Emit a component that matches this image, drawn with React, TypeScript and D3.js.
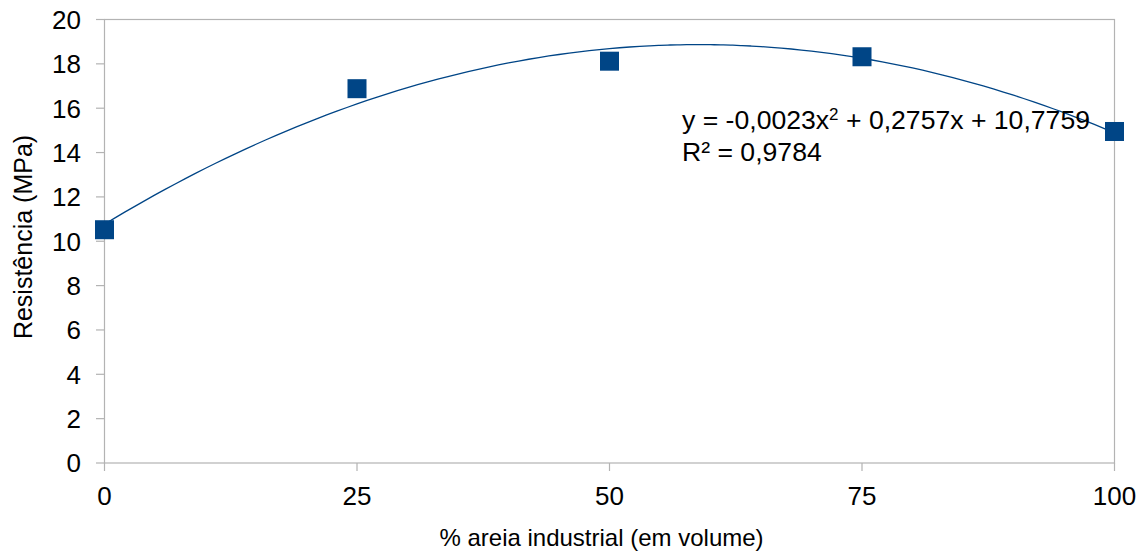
import React from "react";
import * as d3 from "d3";

const categories = [0, 25, 50, 75, 100];
const resistance = [10.52, 16.88, 18.12, 18.32, 14.95];
const yTicks = [0, 2, 4, 6, 8, 10, 12, 14, 16, 18, 20];
const xTicks = [0, 25, 50, 75, 100];
const equationLabel = ["y = -0,0023x", "2", " + 0,2757x + 10,7759"];
const r2Label = "R² = 0,9784";
const xTitle = "% areia industrial (em volume)";
const yTitle = "Resistência (MPa)";

const W = 1146;
const H = 551;
const M = { left: 104.5, right: 1114.5, top: 19.5, bottom: 463 };
const FONT = "'Liberation Sans', Arial, sans-serif";
const BLUE = "#004586";
const GRID = "#b3b3b3";

// least-squares quadratic fit of the data (polynomial trendline)
function quadFit(xs: number[], ys: number[]) {
  const n = xs.length;
  let s1 = 0, s2 = 0, s3 = 0, s4 = 0, t0 = 0, t1 = 0, t2 = 0;
  for (let i = 0; i < n; i++) {
    const xv = xs[i], yv = ys[i];
    s1 += xv; s2 += xv * xv; s3 += xv ** 3; s4 += xv ** 4;
    t0 += yv; t1 += xv * yv; t2 += xv * xv * yv;
  }
  const A = [
    [n, s1, s2, t0],
    [s1, s2, s3, t1],
    [s2, s3, s4, t2],
  ];
  for (let i = 0; i < 3; i++) {
    for (let k = i + 1; k < 3; k++) {
      const f = A[k][i] / A[i][i];
      for (let j = i; j < 4; j++) A[k][j] -= f * A[i][j];
    }
  }
  const sol = [0, 0, 0];
  for (let i = 2; i >= 0; i--) {
    let s = A[i][3];
    for (let j = i + 1; j < 3; j++) s -= A[i][j] * sol[j];
    sol[i] = s / A[i][i];
  }
  return { c: sol[0], b: sol[1], a: sol[2] };
}

export default function App() {
  const x = d3.scaleLinear().domain([0, 100]).range([M.left, M.right]);
  const y = d3.scaleLinear().domain([0, 20]).range([M.bottom, M.top]);
  const { a, b, c } = quadFit(categories, resistance);
  const trendX = d3.range(0, 100.5, 1);
  const line = d3
    .line<number>()
    .x((d) => x(d))
    .y((d) => y(a * d * d + b * d + c))
    .curve(d3.curveMonotoneX);
  const size = 19;
  return (
    <svg
      width={W}
      height={H}
      style={{ position: "absolute", left: 0, top: 0, background: "#fff" }}
      fontFamily={FONT}
    >
      <rect x={0} y={0} width={W} height={H} fill="#fff" />
      <rect
        x={M.left}
        y={M.top}
        width={M.right - M.left}
        height={M.bottom - M.top}
        fill="none"
        stroke={GRID}
        strokeWidth={1.2}
      />
      {yTicks.map((t) => (
        <g key={"y" + t}>
          <line x1={96} x2={M.left} y1={y(t)} y2={y(t)} stroke={GRID} strokeWidth={1.2} />
          <text x={81} y={y(t)} dy="0.36em" textAnchor="end" fontSize={26} fill="#000">
            {t}
          </text>
        </g>
      ))}
      {xTicks.map((t) => (
        <g key={"x" + t}>
          <line x1={x(t)} x2={x(t)} y1={M.bottom} y2={M.bottom + 8} stroke={GRID} strokeWidth={1.2} />
          <text x={x(t)} y={505} textAnchor="middle" fontSize={26} fill="#000">
            {t}
          </text>
        </g>
      ))}
      <path d={line(trendX) || ""} fill="none" stroke={BLUE} strokeWidth={1.3} />
      {categories.map((cat, i) => (
        <rect
          key={"p" + i}
          x={x(cat) - size / 2}
          y={y(resistance[i]) - size / 2}
          width={size}
          height={size}
          fill={BLUE}
        />
      ))}
      <text x={682} y={129} fontSize={26.6} fill="#000">
        {equationLabel[0]}
        <tspan dy={-9} fontSize={17}>{equationLabel[1]}</tspan>
        <tspan dy={9}>{equationLabel[2]}</tspan>
      </text>
      <text x={682} y={161} fontSize={26.6} fill="#000">
        {r2Label}
      </text>
      <text x={(M.left + M.right) / 2 - 8} y={546} textAnchor="middle" fontSize={24} fill="#000">
        {xTitle}
      </text>
      <text
        transform={`translate(32, ${237}) rotate(-90)`}
        textAnchor="middle"
        fontSize={25}
        fill="#000"
      >
        {yTitle}
      </text>
    </svg>
  );
}
